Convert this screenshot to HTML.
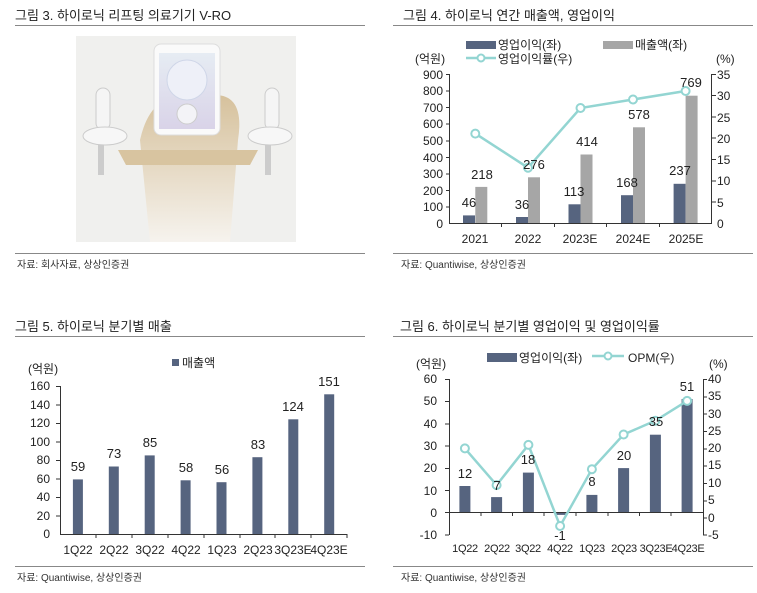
<!DOCTYPE html>
<html><head><meta charset="utf-8"><style>
body{margin:0;background:#fff;}
svg{display:block;font-family:"Liberation Sans","Noto Sans CJK KR",sans-serif;}
</style></head><body>
<svg width="757" height="593" viewBox="0 0 757 593" xmlns="http://www.w3.org/2000/svg">
<defs>
<linearGradient id="fade" x1="0" y1="0" x2="0" y2="1"><stop offset="0" stop-color="#d6c19c"/><stop offset="1" stop-color="#f6f3ee"/></linearGradient>
<linearGradient id="scr" x1="0" y1="0" x2="0" y2="1"><stop offset="0" stop-color="#e6ecf3"/><stop offset="1" stop-color="#d9d3e8"/></linearGradient>
</defs>
<!-- Titles -->
<g font-size="13" fill="#222">
<text x="15" y="20">그림 3. 하이로닉 리프팅 의료기기 V-RO</text>
<text x="403" y="20">그림 4. 하이로닉 연간 매출액, 영업이익</text>
<text x="15" y="331">그림 5. 하이로닉 분기별 매출</text>
<text x="400" y="331">그림 6. 하이로닉 분기별 영업이익 및 영업이익률</text>
</g>
<g stroke="#888" stroke-width="1">
<line x1="15" y1="25.5" x2="365" y2="25.5"/><line x1="393" y1="25.5" x2="753" y2="25.5"/>
<line x1="15" y1="253.5" x2="365" y2="253.5"/><line x1="393" y1="253.5" x2="753" y2="253.5"/>
<line x1="15" y1="336.5" x2="365" y2="336.5"/><line x1="393" y1="336.5" x2="753" y2="336.5"/>
<line x1="15" y1="566.5" x2="365" y2="566.5"/><line x1="393" y1="566.5" x2="753" y2="566.5"/>
</g>
<g font-size="10" fill="#333">
<text x="17" y="268">자료: 회사자료, 상상인증권</text>
<text x="401" y="268">자료: Quantiwise, 상상인증권</text>
<text x="17" y="581">자료: Quantiwise, 상상인증권</text>
<text x="401" y="581">자료: Quantiwise, 상상인증권</text>
</g>
<!-- Image -->
<rect x="76" y="36" width="220" height="206" fill="#f0f0ee"/>
<path d="M140 140 Q150 95 185 95 L215 95 Q245 95 238 140 L230 242 L150 242 Z" fill="url(#fade)"/>
<path d="M118 150 L258 150 L250 165 L126 165 Z" fill="#d8c4a0"/>
<rect x="154" y="44" width="66" height="91" rx="7" fill="#fafafa" stroke="#ddd"/>
<rect x="159" y="53" width="56" height="76" fill="url(#scr)"/>
<circle cx="187" cy="80" r="20" fill="#eef0f8" stroke="#cfd6e8"/>
<circle cx="187" cy="114" r="10" fill="#f3f3f7" stroke="#ccc"/>
<rect x="96" y="88" width="14" height="42" rx="7" fill="#f5f5f5" stroke="#ccc"/>
<rect x="265" y="88" width="14" height="42" rx="7" fill="#f5f5f5" stroke="#ccc"/>
<ellipse cx="105" cy="136" rx="22" ry="9" fill="#f7f7f7" stroke="#ccc"/>
<ellipse cx="270" cy="136" rx="22" ry="9" fill="#f7f7f7" stroke="#ccc"/>
<rect x="98" y="145" width="6" height="30" fill="#ccc"/><rect x="265" y="145" width="6" height="30" fill="#ccc"/>

<!-- Chart 4 -->
<g font-size="12" fill="#222">
<rect x="466" y="41" width="30" height="8" fill="#56647f"/><text x="498" y="49">영업이익(좌)</text>
<rect x="603" y="41" width="30" height="8" fill="#a6a6a6"/><text x="635" y="49">매출액(좌)</text>
<line x1="466" y1="58" x2="496" y2="58" stroke="#93d5d2" stroke-width="2.5"/><circle cx="481" cy="58" r="3.5" fill="#fff" stroke="#93d5d2" stroke-width="2"/>
<text x="498" y="63">영업이익률(우)</text>
<text x="415" y="63">(억원)</text><text x="716" y="63">(%)</text>
<g text-anchor="end">
<text x="443" y="228">0</text><text x="443" y="211">100</text><text x="443" y="195">200</text><text x="443" y="178">300</text><text x="443" y="162">400</text><text x="443" y="145">500</text><text x="443" y="128">600</text><text x="443" y="112">700</text><text x="443" y="95">800</text><text x="443" y="79">900</text>
</g>
<g>
<text x="717" y="228">0</text><text x="717" y="207">5</text><text x="717" y="185">10</text><text x="717" y="164">15</text><text x="717" y="143">20</text><text x="717" y="122">25</text><text x="717" y="100">30</text><text x="717" y="79">35</text>
</g>
<g text-anchor="middle">
<text x="475" y="243">2021</text><text x="528" y="243">2022</text><text x="580" y="243">2023E</text><text x="633" y="243">2024E</text><text x="686" y="243">2025E</text>
</g>
</g>
<g fill="#56647f">
<rect x="463" y="215.4" width="12" height="7.6"/><rect x="516" y="217" width="12" height="6"/><rect x="568.5" y="204.3" width="12" height="18.7"/><rect x="621" y="195.2" width="12" height="27.8"/><rect x="673.6" y="183.8" width="12" height="39.2"/>
</g>
<g fill="#a6a6a6">
<rect x="475.3" y="186.9" width="12" height="36.1"/><rect x="528" y="177.3" width="12" height="45.7"/><rect x="580.5" y="154.5" width="12" height="68.5"/><rect x="633" y="127.3" width="12" height="95.7"/><rect x="685.6" y="95.7" width="12" height="127.3"/>
</g>
<g stroke="#333" stroke-width="1" fill="none">
<path d="M449.5 74V223.5H712M711.5 74V223.5"/>
<path d="M446 74.5h4M446 91h4M446 107.5h4M446 124h4M446 141h4M446 157.5h4M446 174h4M446 190.5h4M446 207h4"/>
<path d="M712 74.5h4M712 95.5h4M712 117h4M712 138h4M712 159.5h4M712 181h4M712 202h4"/>
<path d="M501.5 223v4M554.5 223v4M606.5 223v4M659.5 223v4"/>
</g>
<polyline points="475.3,133.6 528,167.7 580.5,108 633,99.5 685.6,91" fill="none" stroke="#93d5d2" stroke-width="2.5"/>
<g fill="#fff" stroke="#93d5d2" stroke-width="2">
<circle cx="475.3" cy="133.6" r="4"/><circle cx="528" cy="167.7" r="4"/><circle cx="580.5" cy="108" r="4"/><circle cx="633" cy="99.5" r="4"/><circle cx="685.6" cy="91" r="4"/>
</g>
<g font-size="13" fill="#222" text-anchor="middle">
<text x="469" y="207">46</text><text x="522" y="209">36</text><text x="574" y="196">113</text><text x="627" y="187">168</text><text x="680" y="175">237</text>
<text x="482" y="179">218</text><text x="534" y="169">276</text><text x="587" y="146">414</text><text x="639" y="119">578</text><text x="691" y="87">769</text>
</g>

<!-- Chart 5 -->
<g font-size="12" fill="#222">
<rect x="172" y="359" width="7" height="7" fill="#56647f"/><text x="182" y="367">매출액</text>
<text x="28" y="373">(억원)</text>
<g text-anchor="end">
<text x="50" y="538">0</text><text x="50" y="520">20</text><text x="50" y="501">40</text><text x="50" y="483">60</text><text x="50" y="464">80</text><text x="50" y="446">100</text><text x="50" y="427">120</text><text x="50" y="409">140</text><text x="50" y="390">160</text>
</g>
<g text-anchor="middle">
<text x="78" y="554">1Q22</text><text x="114" y="554">2Q22</text><text x="150" y="554">3Q22</text><text x="186" y="554">4Q22</text><text x="222" y="554">1Q23</text><text x="258" y="554">2Q23</text><text x="293" y="554">3Q23E</text><text x="329" y="554">4Q23E</text>
</g>
</g>
<g fill="#56647f">
<rect x="72.9" y="479.4" width="10" height="54.6"/><rect x="108.8" y="466.5" width="10" height="67.5"/><rect x="144.7" y="455.4" width="10" height="78.6"/><rect x="180.6" y="480.3" width="10" height="53.7"/><rect x="216.5" y="482.2" width="10" height="51.8"/><rect x="252.4" y="457.2" width="10" height="76.8"/><rect x="288.3" y="419.3" width="10" height="114.7"/><rect x="324.2" y="394.3" width="10" height="139.7"/>
</g>
<g stroke="#333" stroke-width="1" fill="none">
<path d="M60.5 386V534.5H347"/>
<path d="M56 386.5h4M56 405h4M56 423.5h4M56 442h4M56 460.5h4M56 479h4M56 497.5h4M56 516h4"/>
<path d="M96 534v4M132 534v4M168 534v4M204 534v4M240 534v4M275 534v4M311 534v4M347 534v4"/>
</g>
<g font-size="13" fill="#222" text-anchor="middle">
<text x="78" y="471">59</text><text x="114" y="458">73</text><text x="150" y="447">85</text><text x="186" y="472">58</text><text x="222" y="474">56</text><text x="258" y="449">83</text><text x="293" y="411">124</text><text x="329" y="386">151</text>
</g>

<!-- Chart 6 -->
<g font-size="12" fill="#222">
<rect x="487" y="353" width="30" height="9" fill="#56647f"/><text x="519" y="362">영업이익(좌)</text>
<line x1="592" y1="356" x2="624" y2="356" stroke="#93d5d2" stroke-width="2.5"/><circle cx="608" cy="356" r="3.5" fill="#fff" stroke="#93d5d2" stroke-width="2"/>
<text x="628" y="362">OPM(우)</text>
<text x="416" y="368">(억원)</text><text x="709" y="368">(%)</text>
<g text-anchor="end">
<text x="437" y="539">-10</text><text x="437" y="517">0</text><text x="437" y="495">10</text><text x="437" y="472">20</text><text x="437" y="450">30</text><text x="437" y="428">40</text><text x="437" y="405">50</text><text x="437" y="383">60</text>
</g>
<g>
<text x="708" y="539">-5</text><text x="708" y="522">0</text><text x="708" y="504">5</text><text x="708" y="487">10</text><text x="708" y="469">15</text><text x="708" y="452">20</text><text x="708" y="435">25</text><text x="708" y="418">30</text><text x="708" y="400">35</text><text x="708" y="383">40</text>
</g>
<g text-anchor="middle" font-size="11" letter-spacing="-0.3">
<text x="465" y="552">1Q22</text><text x="497" y="552">2Q22</text><text x="528" y="552">3Q22</text><text x="560" y="552">4Q22</text><text x="592" y="552">1Q23</text><text x="624" y="552">2Q23</text><text x="656" y="552">3Q23E</text><text x="688" y="552">4Q23E</text>
</g>
</g>
<g fill="#56647f">
<rect x="459.4" y="486" width="11" height="26.7"/><rect x="491.1" y="497.1" width="11" height="15.6"/><rect x="522.9" y="472.6" width="11" height="40.1"/><rect x="554.6" y="512.7" width="11" height="2.2"/><rect x="586.4" y="494.9" width="11" height="17.8"/><rect x="618.1" y="468.1" width="11" height="44.6"/><rect x="649.9" y="434.7" width="11" height="78"/><rect x="681.6" y="399" width="11" height="113.7"/>
</g>
<g stroke="#333" stroke-width="1" fill="none">
<path d="M449.5 379V535M449 512.5H703.5M703.5 379V535"/>
<path d="M445 379.5h4M445 401.5h4M445 424h4M445 446h4M445 468.5h4M445 490.5h4M445 512.5h4M445 535h4"/>
<path d="M703 379.5h4M703 397h4M703 414h4M703 431.5h4M703 449h4M703 466h4M703 483.5h4M703 501h4M703 518h4M703 535h4"/>
<path d="M481 512v4M512.5 512v4M544 512v4M576 512v4M608 512v4M639.5 512v4M671 512v4"/>
</g>
<polyline points="464.9,448.4 496.6,485.1 528.4,444.9 560.1,526 591.9,469.2 623.6,434.5 655.4,420.7 687.1,400.9" fill="none" stroke="#93d5d2" stroke-width="2.5"/>
<g fill="#fff" stroke="#93d5d2" stroke-width="2">
<circle cx="464.9" cy="448.4" r="4"/><circle cx="496.6" cy="485.1" r="4"/><circle cx="528.4" cy="444.9" r="4"/><circle cx="560.1" cy="526" r="4"/><circle cx="591.9" cy="469.2" r="4"/><circle cx="623.6" cy="434.5" r="4"/><circle cx="655.4" cy="420.7" r="4"/><circle cx="687.1" cy="400.9" r="4"/>
</g>
<g font-size="13" fill="#222" text-anchor="middle">
<text x="465" y="478">12</text><text x="497" y="490">7</text><text x="528" y="464">18</text><text x="560" y="540">-1</text><text x="592" y="486">8</text><text x="624" y="460">20</text><text x="656" y="426">35</text><text x="687" y="391">51</text>
</g>
</svg>
</body></html>
